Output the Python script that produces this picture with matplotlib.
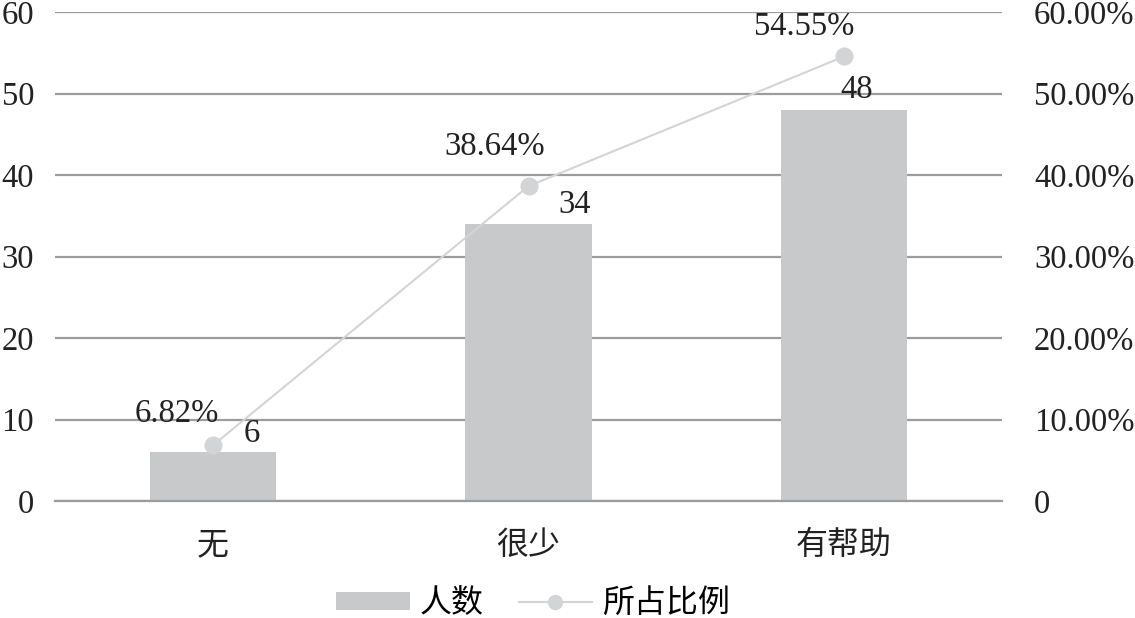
import matplotlib
matplotlib.use("Agg")
import matplotlib.pyplot as plt
from matplotlib.ticker import FuncFormatter
from matplotlib.patches import Patch
from matplotlib.lines import Line2D

categories = ["无", "很少", "有帮助"]
counts = [6, 34, 48]
ratios = [6.82, 38.64, 54.55]
count_ticks = [0, 10, 20, 30, 40, 50, 60]
ratio_ticks = [0, 10, 20, 30, 40, 50, 60]

serif = ["Liberation Serif", "DejaVu Serif"]
cjk = ["Noto Sans CJK SC", "DejaVu Sans"]
bar_color = "#c8c9cb"
line_color = "#d3d4d6"
grid_color = "#9c9c9c"
fs = 23.5

fig = plt.figure(figsize=(11.35, 6.18), dpi=100)
ax = fig.add_axes([55 / 1135, 117 / 618, 947 / 1135, 489 / 618])
x = list(range(len(categories)))
ax.bar(x, counts, width=0.4, color=bar_color, zorder=2)
ax.set_xlim(-0.5, 2.5)
ax.set_ylim(0, 60)
ax.set_yticks(count_ticks)
ax.yaxis.grid(True, color=grid_color, linewidth=1.6, zorder=0)
ax.set_axisbelow(True)
for s in ["top", "right", "left"]:
    ax.spines[s].set_visible(False)
ax.spines["bottom"].set_color(grid_color)
ax.spines["bottom"].set_linewidth(1.6)
ax.tick_params(axis="both", length=0)
ax.tick_params(axis="y", pad=15)
ax.tick_params(axis="x", pad=20)
for lab in ax.get_yticklabels():
    lab.set_fontfamily(serif)
    lab.set_fontsize(fs)
    lab.set_color("#222222")
ax.set_xticks(x)
ax.set_xticklabels(categories, fontfamily=cjk, fontsize=23, color="#222222")

ax2 = ax.twinx()
ax2.plot(x, ratios, color=line_color, linewidth=1.5, marker="o",
         markersize=12, markerfacecolor=line_color, markeredgecolor=line_color, zorder=3)
ax2.set_ylim(0, 60)
ax2.set_yticks(ratio_ticks)
ax2.yaxis.set_major_formatter(FuncFormatter(lambda v, p: "0" if v == 0 else "%.2f%%" % v))
for s in ["top", "right", "left", "bottom"]:
    ax2.spines[s].set_visible(False)
ax2.tick_params(axis="y", length=0, pad=23)
for lab in ax2.get_yticklabels():
    lab.set_fontfamily(serif)
    lab.set_fontsize(fs)
    lab.set_color("#222222")

# value labels
count_offsets = [(39, 3), (46, 4), (13, 5)]
for i, c in enumerate(counts):
    ax.annotate(str(c), (x[i], c), xytext=count_offsets[i], textcoords="offset pixels",
                ha="center", va="bottom", fontfamily=serif, fontsize=fs, color="#222222")
ratio_offsets = [(-36, 16), (-34, 24), (-40, 14)]
for i, r in enumerate(ratios):
    ax2.annotate("%.2f%%" % r, (x[i], r), xytext=ratio_offsets[i], textcoords="offset pixels",
                 ha="center", va="bottom", fontfamily=serif, fontsize=fs, color="#222222")

handles = [Patch(facecolor=bar_color, edgecolor="none"),
           Line2D([0], [0], color=line_color, linewidth=1.5, marker="o",
                  markersize=10, markerfacecolor=line_color, markeredgecolor=line_color)]
fig.legend(handles, ["人数", "所占比例"], loc="center", bbox_to_anchor=(533 / 1135, 1 - 603 / 618),
           ncol=2, frameon=False, prop={"family": cjk, "size": 23},
           handlelength=2.3, handleheight=0.5, columnspacing=1.1, handletextpad=0.3)

fig.savefig("out.png", dpi=100)
